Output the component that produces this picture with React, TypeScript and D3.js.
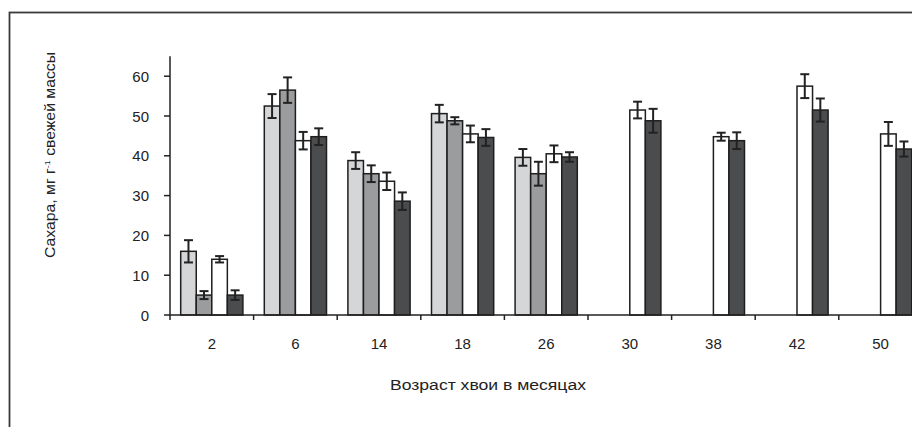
import React from 'react';
import * as d3 from 'd3';

// возраст хвои, месяцы
const CATEGORIES = ["2", "6", "14", "18", "26", "30", "38", "42", "50"];
const SERIES = ["s1", "s2", "s3", "s4"];
const SERIES_COLORS = ["#d4d6d8", "#9b9c9e", "#ffffff", "#4b4c4e"];

// средние значения (null - нет данных)
const S1 = [16, 52.5, 38.8, 50.6, 39.6, null, null, null, null];
const S2 = [5, 56.5, 35.5, 48.8, 35.5, null, null, null, null];
const S3 = [14, 43.8, 33.6, 45.5, 40.5, 51.5, 44.8, 57.5, 45.5];
const S4 = [5, 44.8, 28.6, 44.6, 39.7, 48.8, 43.8, 51.5, 41.7];

// ошибки
const E1 = [2.8, 3, 2.1, 2.2, 2.1, null, null, null, null];
const E2 = [1, 3.2, 2.1, 0.9, 3, null, null, null, null];
const E3 = [0.8, 2.2, 2.2, 2.1, 2.1, 2.1, 1, 3, 3];
const E4 = [1.2, 2.1, 2.2, 2.1, 1.2, 3, 2.1, 2.9, 1.9];

const Y_TICKS = [0, 10, 20, 30, 40, 50, 60];

const VALUES = [S1, S2, S3, S4];
const ERRORS = [E1, E2, E3, E4];

const W = 912;
const H = 427;
const FONT = "'Liberation Sans', Arial, sans-serif";

export default function App() {
    const left = 170;
    const bottom = 315;
    const band = 83.6;

    const x = d3.scaleBand<string>()
        .domain(CATEGORIES)
        .range([left, left + band * CATEGORIES.length])
        .padding(0);

    const xs = d3.scaleBand<string>()
        .domain(SERIES)
        .range([10.7, 72.9])
        .padding(0);

    const y = d3.scaleLinear()
        .domain([0, 60])
        .range([bottom, 76.2]);

    const bars: React.ReactNode[] = [];
    const errs: React.ReactNode[] = [];
    CATEGORIES.forEach((c, i) => {
        SERIES.forEach((s, j) => {
            const v = VALUES[j][i];
            if (v == null) return;
            const bx = (x(c) as number) + (xs(s) as number);
            const bw = xs.bandwidth();
            bars.push(
                <rect key={`b${i}-${j}`} x={bx} y={y(v)} width={bw} height={bottom - y(v)}
                    fill={SERIES_COLORS[j]} stroke="#1e1e1e" strokeWidth={1.5} />
            );
            const e = ERRORS[j][i];
            if (e == null) return;
            const cx = bx + bw / 2;
            errs.push(
                <g key={`e${i}-${j}`} stroke="#222" strokeWidth={2}>
                    <line x1={cx} x2={cx} y1={y(v + e)} y2={y(v - e)} />
                    <line x1={cx - 4.5} x2={cx + 4.5} y1={y(v + e)} y2={y(v + e)} />
                    <line x1={cx - 4.5} x2={cx + 4.5} y1={y(v - e)} y2={y(v - e)} />
                </g>
            );
        });
    });

    const boundaries = d3.range(CATEGORIES.length + 1).map(k => left + k * x.step());

    return (
        <svg width={W} height={H} style={{ position: 'absolute', left: 0, top: 0, background: '#fff' }}>
            <rect x={9.5} y={12.5} width={1200} height={1200} fill="none" stroke="#3a3a3a" strokeWidth={1.8} />

            {bars}
            {errs}

            {/* ось Y */}
            <line x1={left} x2={left} y1={y(65)} y2={bottom} stroke="#222" strokeWidth={1.5} />
            {Y_TICKS.map(t => (
                <g key={t}>
                    <line x1={left - 6} x2={left} y1={y(t)} y2={y(t)} stroke="#222" strokeWidth={1.5} />
                    <text x={149} y={y(t)} textAnchor="end" dominantBaseline="central"
                        fontFamily={FONT} fontSize={15} fill="#222">{t}</text>
                </g>
            ))}

            {/* ось X */}
            <line x1={left} x2={W + 20} y1={bottom} y2={bottom} stroke="#222" strokeWidth={1.5} />
            {boundaries.map((b, k) => (
                <line key={k} x1={b} x2={b} y1={bottom} y2={bottom + 5} stroke="#222" strokeWidth={1.5} />
            ))}
            {CATEGORIES.map(c => (
                <text key={c} x={(x(c) as number) + x.bandwidth() / 2} y={349} textAnchor="middle"
                    fontFamily={FONT} fontSize={15} fill="#222">{c}</text>
            ))}

            <text x={488} y={390} textAnchor="middle" fontFamily={FONT} fontSize={14} fill="#222"
                textLength={196} lengthAdjust="spacingAndGlyphs">Возраст хвои в месяцах</text>

            <text transform="translate(55,155) rotate(-90)" textAnchor="middle"
                fontFamily={FONT} fontSize={14} fill="#222" textLength={206} lengthAdjust="spacingAndGlyphs">
                Сахара, мг г<tspan fontSize={8} dy={-5}>-1</tspan><tspan dy={5}> свежей массы</tspan>
            </text>
        </svg>
    );
}
